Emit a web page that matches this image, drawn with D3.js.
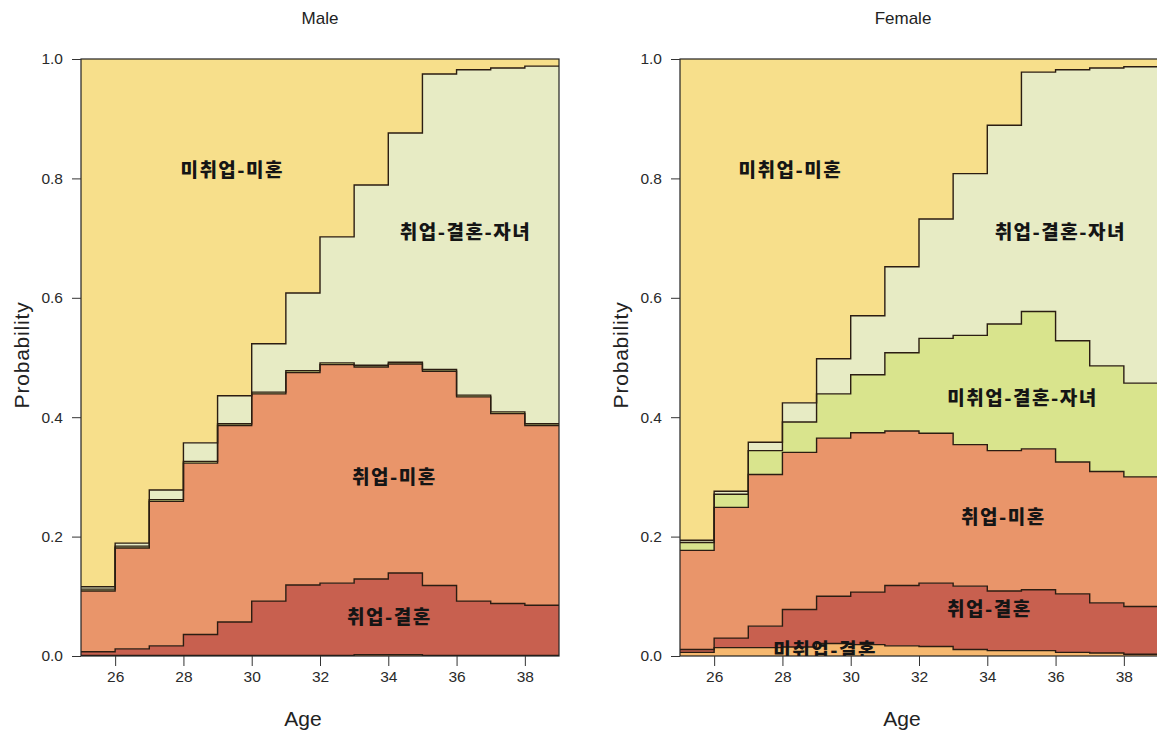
<!DOCTYPE html>
<html>
<head>
<meta charset="utf-8">
<script src="https://cdn.jsdelivr.net/npm/d3@7"></script>
<style>
  body { margin: 0; background: #fff; }
  svg text { font-family: "Liberation Sans", Arial, sans-serif; }
  .state-label { font-family: "Noto Sans CJK KR", sans-serif; font-weight: 900; }
</style>
</head>
<body>
<svg id="chart" width="1157" height="734"></svg>
<script>
// Ages (each value holds from age a up to a+1)
const ages = [25, 26, 27, 28, 29, 30, 31, 32, 33, 34, 35, 36, 37, 38];

// States, stacked bottom to top
const states = ["미취업-결혼", "취업-결혼", "취업-미혼", "미취업-결혼-자녀", "취업-결혼-자녀", "미취업-미혼"];
const stateColors = ["#F6B86F", "#C8604F", "#E9956A", "#D9E48D", "#E7EBC4", "#F7DF8B"];

// Male state probabilities by age
const maleNoJobMarried      = [0.001, 0.001, 0.001, 0.001, 0.001, 0.001, 0.001, 0.001, 0.002, 0.002, 0.001, 0.001, 0.001, 0.001];
const maleJobMarried        = [0.006, 0.011, 0.016, 0.035, 0.056, 0.091, 0.118, 0.121, 0.127, 0.137, 0.117, 0.091, 0.087, 0.084];
const maleJobSingle         = [0.102, 0.169, 0.242, 0.287, 0.329, 0.347, 0.356, 0.366, 0.355, 0.350, 0.359, 0.342, 0.318, 0.301];
const maleNoJobMarriedChild = [0.003, 0.003, 0.003, 0.003, 0.003, 0.003, 0.003, 0.003, 0.003, 0.003, 0.003, 0.003, 0.003, 0.003];
const maleJobMarriedChild   = [0.004, 0.005, 0.016, 0.031, 0.047, 0.081, 0.130, 0.211, 0.302, 0.384, 0.495, 0.545, 0.576, 0.599];
const maleNoJobSingle       = [0.884, 0.811, 0.722, 0.643, 0.564, 0.477, 0.392, 0.298, 0.211, 0.124, 0.025, 0.018, 0.015, 0.012];

// Female state probabilities by age
const femaleNoJobMarried      = [0.006, 0.014, 0.014, 0.015, 0.021, 0.019, 0.017, 0.016, 0.011, 0.009, 0.009, 0.006, 0.005, 0.003];
const femaleJobMarried        = [0.005, 0.016, 0.036, 0.063, 0.079, 0.088, 0.101, 0.106, 0.106, 0.100, 0.102, 0.098, 0.084, 0.080];
const femaleJobSingle         = [0.166, 0.219, 0.254, 0.263, 0.265, 0.267, 0.259, 0.251, 0.237, 0.235, 0.236, 0.221, 0.220, 0.217];
const femaleNoJobMarriedChild = [0.013, 0.022, 0.040, 0.051, 0.074, 0.097, 0.131, 0.159, 0.183, 0.212, 0.230, 0.203, 0.177, 0.157];
const femaleJobMarriedChild   = [0.004, 0.005, 0.014, 0.032, 0.059, 0.099, 0.144, 0.200, 0.271, 0.333, 0.401, 0.454, 0.499, 0.530];
const femaleNoJobSingle       = [0.806, 0.724, 0.642, 0.576, 0.502, 0.430, 0.348, 0.268, 0.192, 0.111, 0.022, 0.018, 0.015, 0.013];

// Axis ticks
const xTicks = [26, 28, 30, 32, 34, 36, 38];
const yTicks = [0, 0.2, 0.4, 0.6, 0.8, 1.0];

// In-plot state labels: [state, age, probability]
const maleLabels = [
  ["미취업-미혼", 29.43, 0.814],
  ["취업-결혼-자녀", 36.26, 0.710],
  ["취업-미혼", 34.18, 0.300],
  ["취업-결혼", 34.03, 0.065]
];
const femaleLabels = [
  ["미취업-미혼", 28.23, 0.814],
  ["취업-결혼-자녀", 36.14, 0.710],
  ["미취업-결혼-자녀", 35.03, 0.432],
  ["취업-미혼", 34.47, 0.233],
  ["취업-결혼", 34.06, 0.079],
  ["미취업-결혼", 29.25, 0.010]
];

const svg = d3.select("#chart");

function drawPanel(opts) {
  const { title, series, labels, left, right, top, bottom, titleX, xLabelX } = opts;
  const x = d3.scaleLinear().domain([25, 39]).range([left, right]);
  const y = d3.scaleLinear().domain([0, 1]).range([bottom, top]);

  // rows keyed by state; repeat the last age at 39 so the final step closes
  const rows = ages.map((a, i) => {
    const r = { age: a };
    states.forEach((s, k) => { r[s] = series[k][i]; });
    return r;
  });
  rows.push(Object.assign({}, rows[rows.length - 1], { age: 39 }));

  const stacked = d3.stack().keys(states)(rows);

  const clipId = "clip-" + title;
  svg.append("clipPath").attr("id", clipId)
    .append("rect").attr("x", left).attr("y", top)
    .attr("width", right - left).attr("height", bottom - top);

  const g = svg.append("g").attr("clip-path", `url(#${clipId})`);

  const area = d3.area()
    .curve(d3.curveStepAfter)
    .x(d => x(d.data.age))
    .y0(d => y(d[0]))
    .y1(d => y(d[1]));

  const line = d3.line()
    .curve(d3.curveStepAfter)
    .x(d => x(d.data.age))
    .y(d => y(d[1]));

  g.selectAll("path.layer")
    .data(stacked)
    .join("path")
    .attr("class", "layer")
    .attr("fill", (d, i) => stateColors[i])
    .attr("d", area);

  g.selectAll("path.edge")
    .data(stacked.slice(0, -1))
    .join("path")
    .attr("class", "edge")
    .attr("fill", "none")
    .attr("stroke", "#2b1d12")
    .attr("stroke-width", 1.4)
    .attr("d", line);

  // state labels
  g.selectAll("text.state-label")
    .data(labels)
    .join("text")
    .attr("class", "state-label")
    .attr("x", d => x(d[1]))
    .attr("y", d => y(d[2]))
    .attr("dy", "0.36em")
    .attr("text-anchor", "middle")
    .attr("font-size", 19)
    .attr("letter-spacing", 1.5)
    .attr("fill", "#151515")
    .text(d => d[0]);

  // frame
  svg.append("rect")
    .attr("x", left).attr("y", top)
    .attr("width", right - left).attr("height", bottom - top)
    .attr("fill", "none").attr("stroke", "#222").attr("stroke-width", 1.2);

  // axes
  const yAxis = d3.axisLeft(y).tickValues(yTicks).tickFormat(d3.format(".1f"))
    .tickSize(9).tickPadding(9);
  const yg = svg.append("g").attr("transform", `translate(${left},0)`).call(yAxis);
  yg.select(".domain").remove();
  yg.selectAll("text").attr("font-size", 15.5).attr("fill", "#2a2a2a").style("font-family", "Liberation Sans, Arial, sans-serif");
  yg.selectAll("line").attr("stroke", "#333");

  const xAxis = d3.axisBottom(x).tickValues(xTicks).tickFormat(d3.format("d"))
    .tickSize(10).tickPadding(16);
  const xg = svg.append("g").attr("transform", `translate(0,${bottom})`).call(xAxis);
  xg.select(".domain").remove();
  xg.selectAll("text").attr("font-size", 15.5).attr("fill", "#2a2a2a").attr("dy", 0).style("font-family", "Liberation Sans, Arial, sans-serif");
  xg.selectAll("line").attr("stroke", "#333");

  // titles
  svg.append("text")
    .attr("x", titleX).attr("y", 24)
    .attr("text-anchor", "middle")
    .attr("font-size", 17).attr("fill", "#222")
    .text(title);

  svg.append("text")
    .attr("x", xLabelX).attr("y", 726)
    .attr("text-anchor", "middle")
    .attr("font-size", 21).attr("fill", "#222")
    .text("Age");

  svg.append("text")
    .attr("transform", `translate(${left - 59},355) rotate(-90)`)
    .attr("dy", "0.35em")
    .attr("text-anchor", "middle")
    .attr("font-size", 21).attr("letter-spacing", 0.8).attr("fill", "#222")
    .text("Probability");
}

drawPanel({
  title: "Male",
  series: [maleNoJobMarried, maleJobMarried, maleJobSingle, maleNoJobMarriedChild, maleJobMarriedChild, maleNoJobSingle],
  labels: maleLabels,
  left: 81, right: 559, top: 59, bottom: 656,
  titleX: 320, xLabelX: 303
});

drawPanel({
  title: "Female",
  series: [femaleNoJobMarried, femaleJobMarried, femaleJobSingle, femaleNoJobMarriedChild, femaleJobMarriedChild, femaleNoJobSingle],
  labels: femaleLabels,
  left: 680, right: 1158, top: 59, bottom: 656,
  titleX: 903, xLabelX: 902
});
</script>
</body>
</html>
